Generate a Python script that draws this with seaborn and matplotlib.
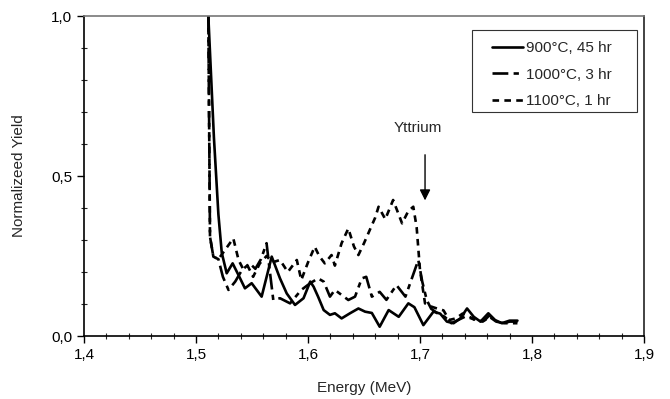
import matplotlib
matplotlib.use("Agg")
import matplotlib.pyplot as plt
import seaborn as sns
import pandas as pd
from matplotlib.patches import Rectangle
from matplotlib.ticker import MultipleLocator, FuncFormatter

# Backscattering spectra, normalized yield vs. energy
energy_900 = [1.511, 1.516, 1.520, 1.523, 1.5274, 1.5327, 1.538, 1.5437, 1.5497, 1.5586,
              1.5676, 1.575, 1.581, 1.5884, 1.596, 1.602, 1.605, 1.609, 1.614, 1.6196,
              1.624, 1.630, 1.6375, 1.645, 1.651, 1.657, 1.664, 1.672, 1.681, 1.6896,
              1.695, 1.703, 1.712, 1.718, 1.724, 1.730, 1.736, 1.742, 1.748, 1.754,
              1.761, 1.767, 1.773, 1.780, 1.787]
yield_900 = [1.0, 0.62, 0.38, 0.26, 0.196, 0.227, 0.19, 0.149, 0.165, 0.123,
             0.248, 0.18, 0.133, 0.097, 0.118, 0.17, 0.154, 0.123, 0.081, 0.066,
             0.071, 0.055, 0.071, 0.086, 0.076, 0.072, 0.029, 0.081, 0.06, 0.102,
             0.09, 0.034, 0.076, 0.07, 0.045, 0.040, 0.055, 0.086, 0.06, 0.045,
             0.071, 0.05, 0.04, 0.048, 0.048]

energy_1000 = [1.511, 1.5125, 1.5155, 1.520, 1.524, 1.529, 1.535, 1.541, 1.548, 1.553,
               1.558, 1.563, 1.566, 1.569, 1.575, 1.584, 1.594, 1.602, 1.609, 1.614,
               1.6196, 1.624, 1.636, 1.642, 1.648, 1.652, 1.657, 1.664, 1.670, 1.679,
               1.687, 1.6985, 1.702, 1.706, 1.710, 1.716, 1.722, 1.728, 1.734, 1.740,
               1.746, 1.752, 1.758, 1.762, 1.768, 1.775, 1.780, 1.787]
yield_1000 = [1.0, 0.31, 0.248, 0.24, 0.185, 0.144, 0.17, 0.206, 0.227, 0.21,
              0.24, 0.29, 0.2, 0.1125, 0.118, 0.102, 0.144, 0.165, 0.18, 0.17,
              0.123, 0.144, 0.1125, 0.123, 0.18, 0.185, 0.123, 0.138, 0.113, 0.159,
              0.123, 0.2375, 0.17, 0.1125, 0.085, 0.07, 0.06, 0.04, 0.05, 0.06,
              0.055, 0.045, 0.05, 0.065, 0.045, 0.04, 0.045, 0.045]

energy_1100 = [1.511, 1.5125, 1.5155, 1.520, 1.5333, 1.538, 1.542, 1.546, 1.551, 1.557,
               1.563, 1.568, 1.575, 1.582, 1.590, 1.594, 1.600, 1.606, 1.610, 1.615,
               1.621, 1.624, 1.630, 1.636, 1.641, 1.645, 1.650, 1.655, 1.660, 1.663,
               1.669, 1.676, 1.684, 1.6895, 1.694, 1.697, 1.700, 1.7045, 1.710, 1.716,
               1.721, 1.726, 1.732, 1.738, 1.744, 1.750, 1.756, 1.762, 1.768, 1.775,
               1.782, 1.787]
yield_1100 = [1.0, 0.31, 0.248, 0.24, 0.305, 0.2375, 0.21, 0.22, 0.185, 0.227,
              0.25, 0.23, 0.2375, 0.20, 0.2375, 0.175, 0.23, 0.279, 0.25, 0.227,
              0.253, 0.22, 0.29, 0.336, 0.28, 0.253, 0.29, 0.33, 0.37, 0.404,
              0.365, 0.425, 0.352, 0.39, 0.404, 0.34, 0.206, 0.102, 0.092, 0.085,
              0.08, 0.05, 0.055, 0.07, 0.06, 0.05, 0.045, 0.06, 0.045, 0.04,
              0.04, 0.04]

labels = ["900°C, 45 hr", "1000°C, 3 hr", "1100°C, 1 hr"]

frames = []
for lab, e, y in zip(labels, [energy_900, energy_1000, energy_1100],
                     [yield_900, yield_1000, yield_1100]):
    frames.append(pd.DataFrame({"Energy": e, "Yield": y, "Sample": lab}))
df = pd.concat(frames, ignore_index=True)

sns.set_style("ticks")
plt.rcParams["font.family"] = ["Liberation Sans", "DejaVu Sans"]
plt.rcParams["lines.solid_joinstyle"] = "round"
plt.rcParams["lines.dash_joinstyle"] = "round"

fig = plt.figure(figsize=(6.7, 3.99), dpi=100)
ax = fig.add_axes([84 / 670, 63 / 399, 560 / 670, 320 / 399])

sns.lineplot(data=df, x="Energy", y="Yield", hue="Sample", style="Sample",
             hue_order=labels, style_order=labels,
             palette=["black"] * 3,
             dashes={labels[0]: "", labels[1]: (6, 2, 2, 2), labels[2]: (2.5, 2)},
             linewidth=1.9, estimator=None, sort=False, ax=ax, legend=True)

ax.set_xlim(1.4, 1.9)
ax.set_ylim(0.0, 1.0)
ax.xaxis.set_major_locator(MultipleLocator(0.1))
ax.xaxis.set_minor_locator(MultipleLocator(0.02))
ax.yaxis.set_major_locator(MultipleLocator(0.5))
ax.yaxis.set_minor_locator(MultipleLocator(0.1))
comma = FuncFormatter(lambda v, p: f"{v:.1f}".replace(".", ","))
ax.xaxis.set_major_formatter(comma)
ax.yaxis.set_major_formatter(comma)
ax.tick_params(axis="both", which="major", direction="out", length=5, width=1,
               labelsize=11, colors="black")
ax.tick_params(axis="both", which="minor", direction="inout", length=4, width=0.8)

for side in ["left", "bottom"]:
    ax.spines[side].set_color("black")
    ax.spines[side].set_linewidth(1.2)
ax.spines["top"].set_color("#777777")
ax.spines["right"].set_color("#222222")
ax.spines["top"].set_linewidth(1.2)
ax.spines["right"].set_linewidth(1.2)

ax.set_xlabel("Energy (MeV)", fontsize=11)
ax.set_ylabel("Normalizeed Yield", fontsize=11)
ax.xaxis.set_label_coords(0.5, -0.14)
ax.yaxis.set_label_coords(-0.104, 0.5)

# Legend entries without a frame; the box around them is drawn separately
handles, _ = ax.get_legend_handles_labels()
leg = ax.legend(handles=handles[-3:], labels=labels, loc="upper left",
                bbox_to_anchor=(0.7286, 0.921), frameon=False,
                fontsize=11, handlelength=2.0, handletextpad=0.2,
                labelspacing=0.82, borderpad=0.0, borderaxespad=0.0)
ax.add_patch(Rectangle((0.693, 0.70), 0.2946, 0.256, transform=ax.transAxes,
                       fill=False, edgecolor="#333333", linewidth=0.8,
                       zorder=5))

ax.text(1.6978, 0.65, "Yttrium", ha="center", va="center", fontsize=11)
ax.annotate("", xy=(1.7045, 0.415), xytext=(1.7045, 0.575),
            arrowprops=dict(arrowstyle="-|>", color="black", lw=1,
                            mutation_scale=16))

fig.savefig("out.png", dpi=100)
